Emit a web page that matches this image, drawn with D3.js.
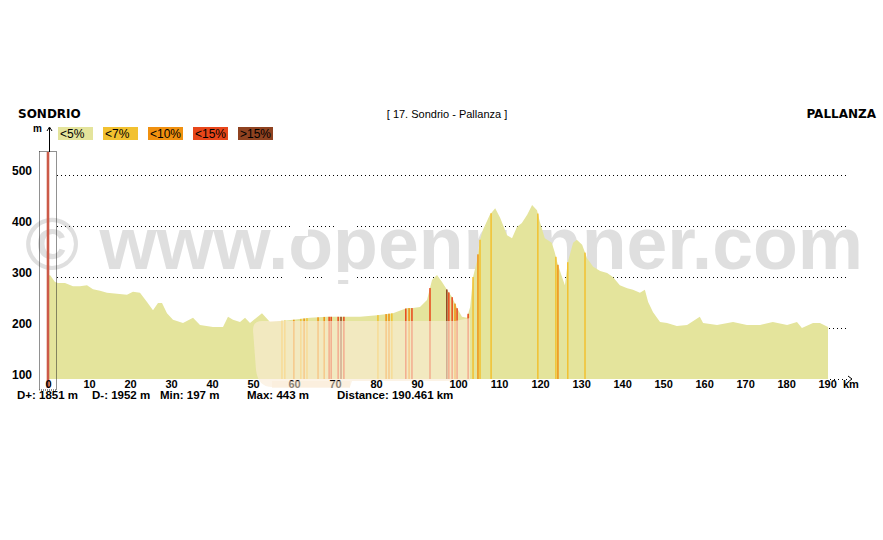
<!DOCTYPE html>
<html><head><meta charset="utf-8">
<script src="https://cdn.jsdelivr.net/npm/d3@7"></script>
<style>html,body{margin:0;padding:0;background:#fff;}svg{display:block;}</style>
</head><body>
<script>
// ---- data ----
const distKm = [0,0.73,1.95,2.68,4.39,6.34,8.05,9.75,11.22,12.93,14.63,17.07,19.51,20.97,22.68,24.39,25.85,27.07,28.05,29.26,30.73,33.17,35.61,37.31,40.48,42.92,44.14,45.36,47.07,48.29,49.51,52.43,54.38,59.99,64.14,68.28,72.19,76.33,80.48,84.38,87.79,89.26,90.96,92.67,93.89,95.11,96.33,97.55,98.77,99.99,101.2,102.4,103.2,103.9,104.9,105.6,106.3,108.0,109.3,110.5,112.2,113.4,114.6,115.8,117.1,118.3,119.5,120.2,121.4,123.1,123.8,124.6,125.6,126.3,127.0,128.3,129.2,130.5,131.7,133.2,134.9,136.6,138.0,139.7,141.5,142.9,144.6,145.8,146.6,147.8,149.5,151.2,153.6,156.1,159.2,160.0,163.4,167.3,170.7,173.9,177.0,180.5,182.9,184.1,186.8,188.5,190.461];
const elevM  = [300,304,290,288,288,282,282,284,276,273,269,267,265,271,269,251,235,249,249,229,216,210,220,206,202,202,222,216,212,220,210,229,212,216,220,222,222,222,225,229,239,239,241,255,294,304,290,275,261,239,222,220,241,300,333,373,392,422,435,416,382,376,398,406,422,441,431,408,376,367,349,324,300,284,329,367,373,363,337,320,312,308,300,284,278,275,269,275,251,231,212,210,204,206,222,210,206,212,206,206,212,206,212,200,210,210,202];
const stripeKm  = [57.3,58.0,60.2,61.9,62.7,63.4,66.1,67.6,68.8,69.3,71.0,71.7,72.4,80.7,82.7,83.4,84.1,87.5,88.3,89.0,93.4,97.5,98.0,98.8,99.5,100.0,102.7,103.9,105.1,105.6,108.3,119.7,124.1,124.6,127.0,131.2];
const stripeCls = [1,1,2,1,2,1,2,2,3,3,3,4,3,1,2,2,1,3,2,3,3,4,3,3,2,3,3,1,2,1,1,1,1,2,1,1];
const yTicks = [100,200,300,400,500];
const gridTicks = [200,300,400,500];
const xTicks = [0,10,20,30,40,50,60,70,80,90,100,110,120,130,140,150,160,170,180,190];
const legendLabels = ["<5%","<7%","<10%","<15%",">15%"];
const slopeColors = ["#e4e49c","#f2c130","#f0900f","#e8461a","#8f4220"];
const startName = "SONDRIO", endName = "PALLANZA", stageTitle = "[ 17. Sondrio - Pallanza ]";
const stats = ["D+: 1851 m","D-: 1952 m","Min: 197 m","Max: 443 m","Distance: 190.461 km"];
const watermark = "\u00A9 www.openrunner.com";

// ---- layout ----
const W = 883, H = 540;
const svg = d3.select("body").append("svg").attr("width", W).attr("height", H);
svg.append("rect").attr("width", W).attr("height", H).attr("fill", "#fff");

const x = d3.scaleLinear().domain([0, 190.461]).range([47, 828]);
const y = d3.scaleLinear().domain([100, 500]).range([379, 175]);
const pts = distKm.map((d, i) => ({km: d, m: elevM[i]}));
const bis = d3.bisector(d => d.km).left;
function elevAt(km) {
  const i = Math.max(1, Math.min(pts.length - 1, bis(pts, km)));
  const a = pts[i - 1], b = pts[i];
  const t = (km - a.km) / (b.km - a.km);
  return a.m + (b.m - a.m) * t;
}
const ff = "'Liberation Sans', Arial, sans-serif";

// gridlines
svg.append("g").selectAll("line").data(gridTicks).join("line")
  .attr("x1", 57).attr("x2", 847)
  .attr("y1", d => Math.round(y(d)) + 0.5).attr("y2", d => Math.round(y(d)) + 0.5)
  .attr("stroke", "#000").attr("stroke-width", 1).attr("stroke-dasharray", "1,3");
svg.append("line").attr("x1", 830).attr("x2", 848).attr("y1", y(100) + 0.5).attr("y2", y(100) + 0.5)
  .attr("stroke", "#000").attr("stroke-dasharray", "1,3");

// watermark
svg.append("text").attr("x", 25).attr("y", 269).text(watermark)
  .attr("font-family", ff).attr("font-weight", "bold").attr("font-size", 75)
  .attr("textLength", 838).attr("lengthAdjust", "spacingAndGlyphs")
  .attr("fill", "#808080").attr("fill-opacity", 0.25);

// area
const area = d3.area().x(d => x(d.km)).y0(y(100)).y1(d => y(d.m));
svg.append("path").datum(pts).attr("d", area).attr("fill", slopeColors[0]);

// slope stripes
svg.append("g").selectAll("rect").data(stripeKm).join("rect")
  .attr("x", d => x(d) - 0.75).attr("width", 1.5)
  .attr("y", d => y(elevAt(d))).attr("height", d => y(100) - y(elevAt(d)))
  .attr("fill", (d, i) => slopeColors[stripeCls[i]]);

// faded overlay artifact in the middle section
svg.append("path")
  .attr("d", "M253,330 Q253,321 262,321 L455,321 L470,318 L470,381 L352,381 L350,387 L272,387 Q258,387 256,370 Z")
  .attr("fill", "#faebd7").attr("fill-opacity", 0.62);

// white patches (erased bits)
[[283,272,22,8],[323,272,32,8],[337,221,18,9],[292,222,16,14]].forEach(r =>
  svg.append("rect").attr("x", r[0]).attr("y", r[1]).attr("width", r[2]).attr("height", r[3]).attr("fill", "#fff"));

// start marker box & red line
svg.append("rect").attr("x", 39.5).attr("y", 151.5).attr("width", 17).attr("height", 238.5)
  .attr("fill", "none").attr("stroke", "#222").attr("stroke-dasharray", "1,1");
svg.append("line").attr("x1", 48).attr("x2", 48).attr("y1", 152).attr("y2", 388)
  .attr("stroke", "#cc5a48").attr("stroke-width", 2.6);
// y axis stub with arrow head
svg.append("line").attr("x1", 49.5).attr("x2", 49.5).attr("y1", 128).attr("y2", 152).attr("stroke", "#000");
svg.append("path").attr("d", "M47,131 L49.5,127 L52,131").attr("fill", "none").attr("stroke", "#000");
svg.append("text").attr("x", 33).attr("y", 132).text("m").attr("font-family", ff).attr("font-weight", "bold").attr("font-size", 10);

// y tick labels
svg.append("g").selectAll("text").data(yTicks).join("text")
  .attr("x", 32).attr("y", d => y(d)).attr("text-anchor", "end").text(d => d)
  .attr("font-family", ff).attr("font-weight", "bold").attr("font-size", 12).attr("fill", "#000");

// x tick labels
svg.append("g").selectAll("text").data(xTicks).join("text")
  .attr("x", d => x(d) + 1.5).attr("y", 388).attr("text-anchor", "middle").text(d => d)
  .attr("font-family", ff).attr("font-weight", "bold").attr("font-size", 11).attr("fill", "#000");
svg.append("text").attr("x", 843).attr("y", 388).text("km")
  .attr("font-family", ff).attr("font-weight", "bold").attr("font-size", 11);
// axis arrow
svg.append("path").attr("d", "M848,376 L852,379 L848,382").attr("fill", "none").attr("stroke", "#000");

// fade over faded tick labels region
svg.append("rect").attr("x", 272).attr("y", 381).attr("width", 78).attr("height", 7)
  .attr("fill", "#faebd7").attr("fill-opacity", 0.55);

// stats
const statX = [17, 92, 160, 247, 337];
svg.append("g").selectAll("text").data(stats).join("text")
  .attr("x", (d, i) => statX[i]).attr("y", 398.5).text(d => d)
  .attr("font-family", ff).attr("font-weight", "bold").attr("font-size", 11.5);

// header
svg.append("text").attr("x", 18).attr("y", 118).text(startName)
  .attr("font-family", "'DejaVu Sans', Verdana, sans-serif").attr("font-weight", "bold").attr("font-size", 12);
svg.append("text").attr("x", 876).attr("y", 118).attr("text-anchor", "end").text(endName)
  .attr("font-family", "'DejaVu Sans', Verdana, sans-serif").attr("font-weight", "bold").attr("font-size", 12);
svg.append("text").attr("x", 447).attr("y", 118).attr("text-anchor", "middle").text(stageTitle)
  .attr("font-family", ff).attr("font-size", 11);

// legend
const lg = svg.append("g").selectAll("g").data(legendLabels).join("g")
  .attr("transform", (d, i) => `translate(${58 + i * 45},127)`);
lg.append("rect").attr("width", 35).attr("height", 13).attr("fill", (d, i) => slopeColors[i]);
lg.append("text").attr("x", 2).attr("y", 11).text(d => d)
  .attr("font-family", ff).attr("font-size", 12).attr("fill", "#000");
</script>
</body></html>
